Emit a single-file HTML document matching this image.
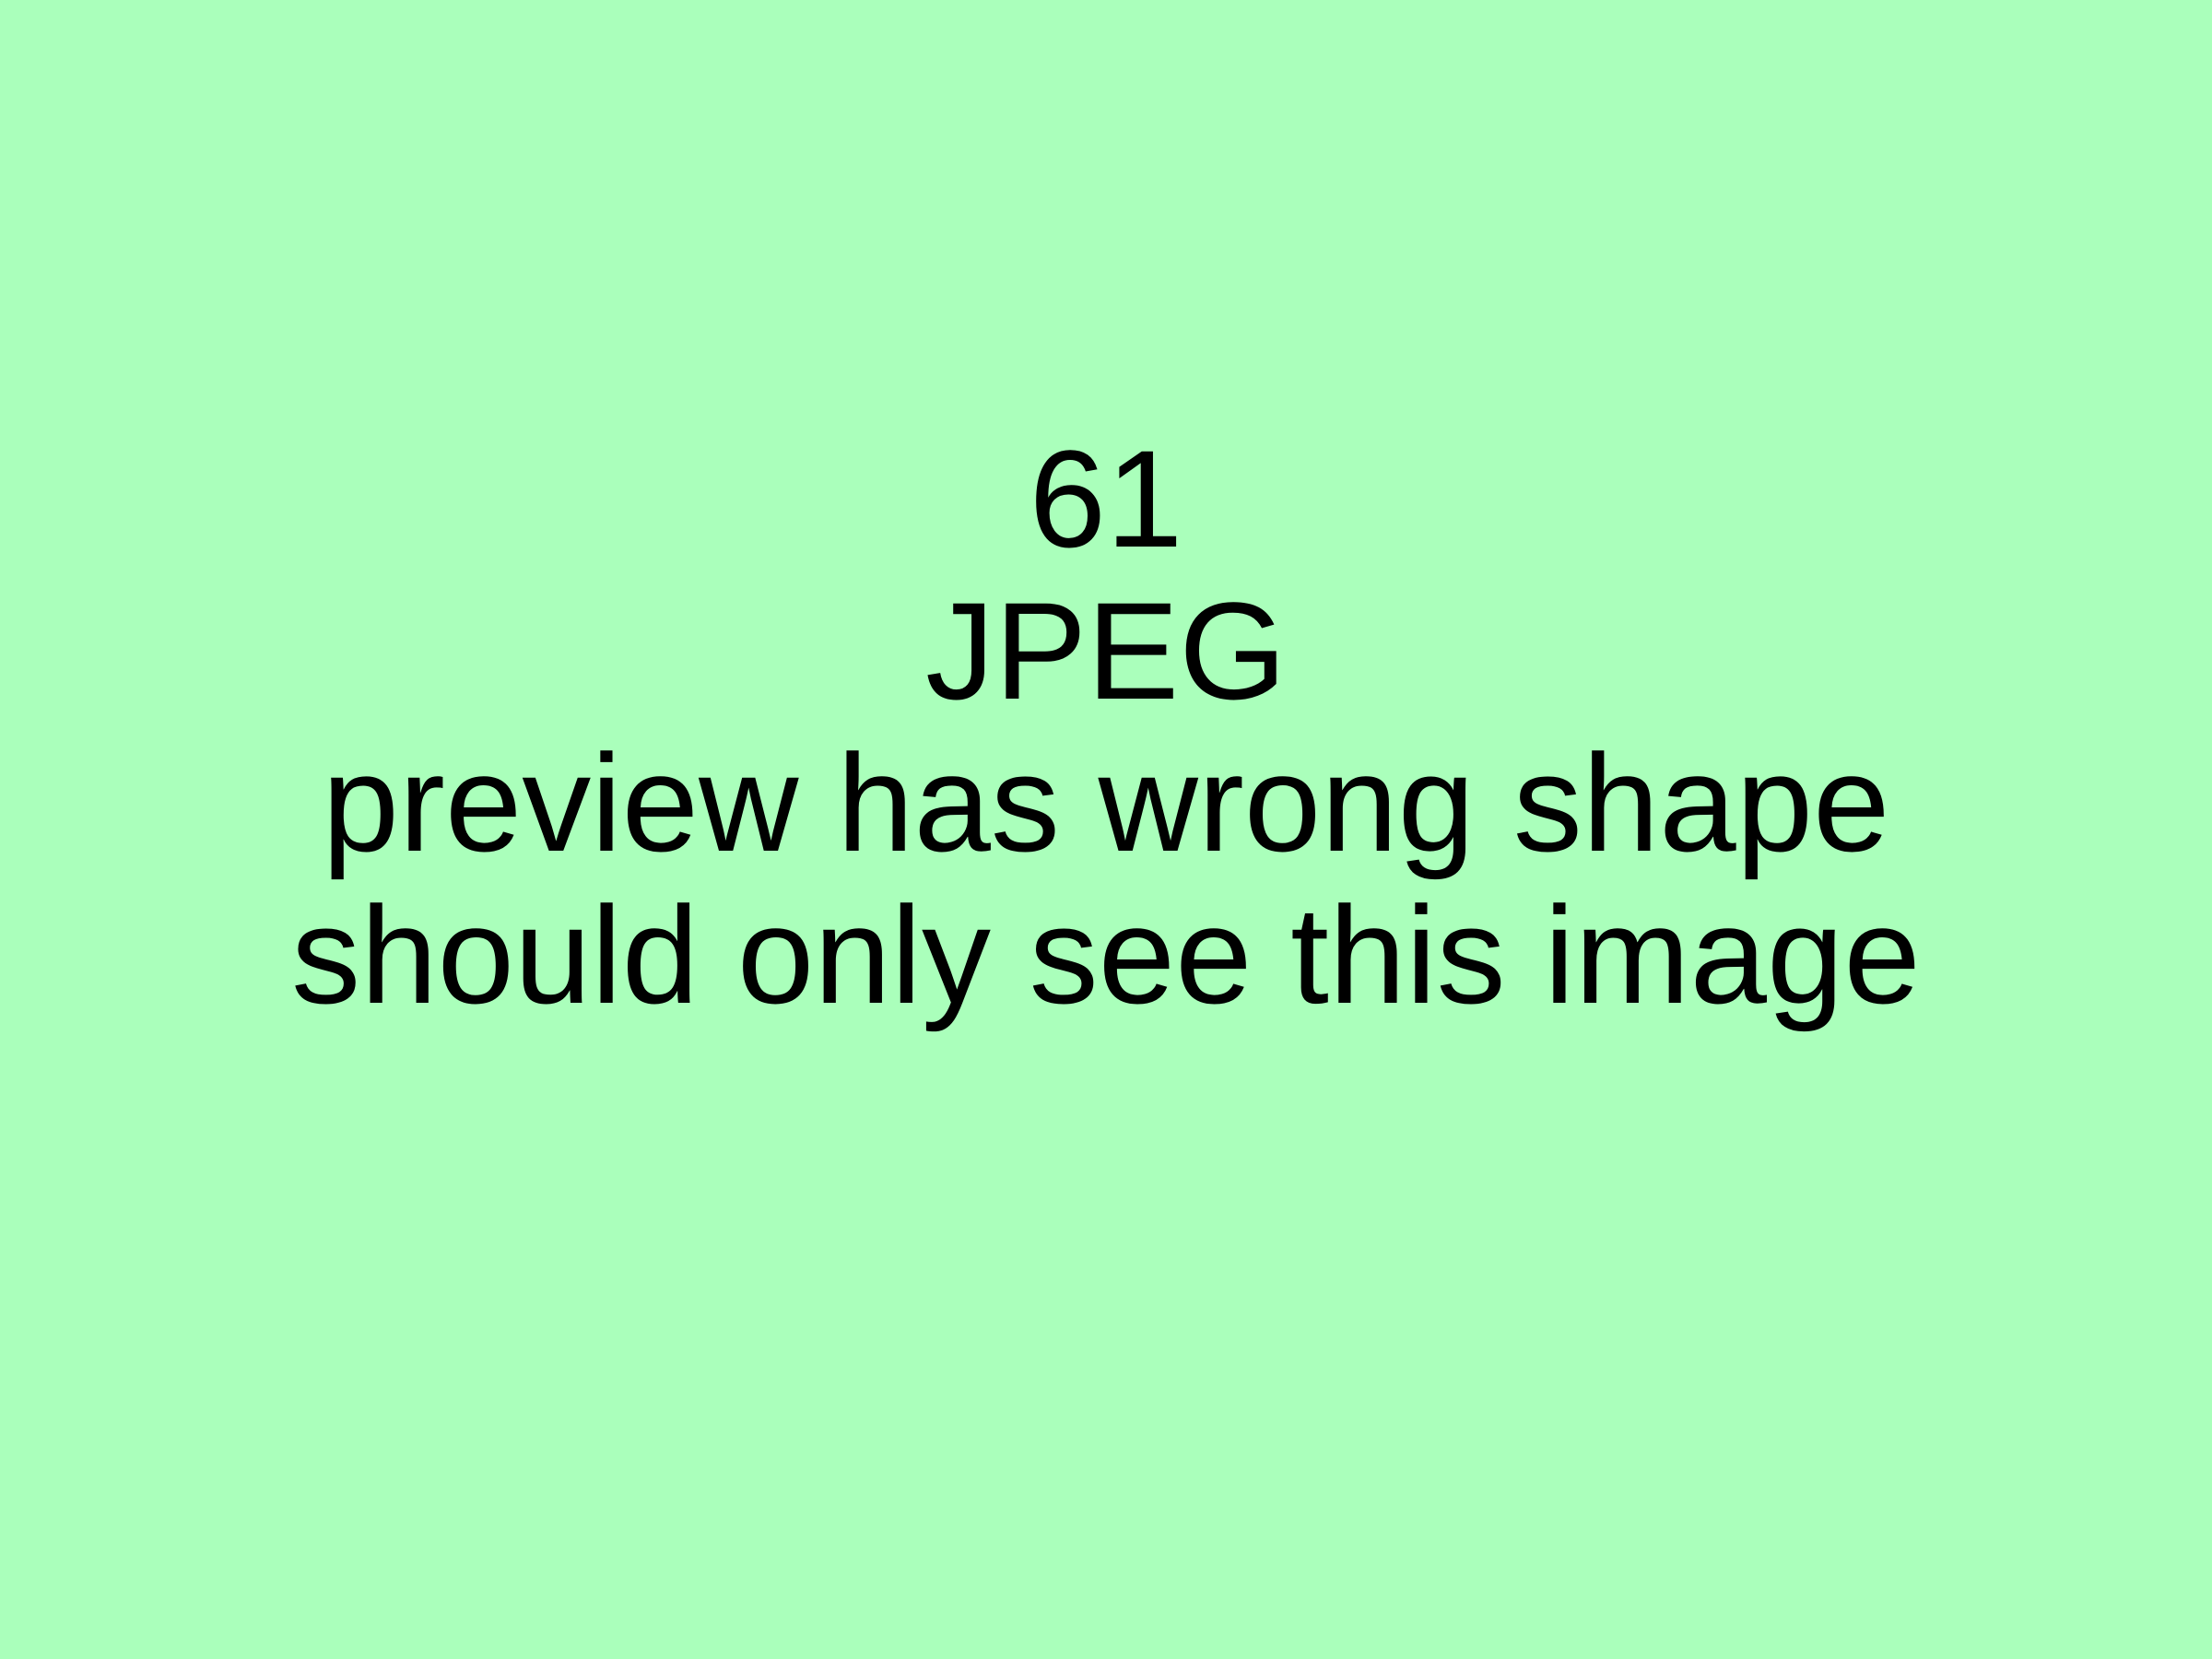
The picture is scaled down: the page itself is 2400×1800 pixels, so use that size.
<!DOCTYPE html>
<html>
<head>
<meta charset="utf-8">
<style>
  html, body { margin: 0; padding: 0; }
  body {
    width: 2400px; height: 1800px; overflow: hidden;
    background: #aaffbb;
    position: relative;
    font-family: "Liberation Sans", Arial, sans-serif;
  }
  .msg {
    position: absolute; left: 0; top: 459px; width: 2400px;
    text-align: center; color: #000;
    font-size: 150px; line-height: 165px;
  }
  .msg div { white-space: nowrap; }
</style>
</head>
<body>
  <div class="msg">
    <div>61</div>
    <div>JPEG</div>
    <div>preview has wrong shape</div>
    <div>should only see this image</div>
  </div>
</body>
</html>
